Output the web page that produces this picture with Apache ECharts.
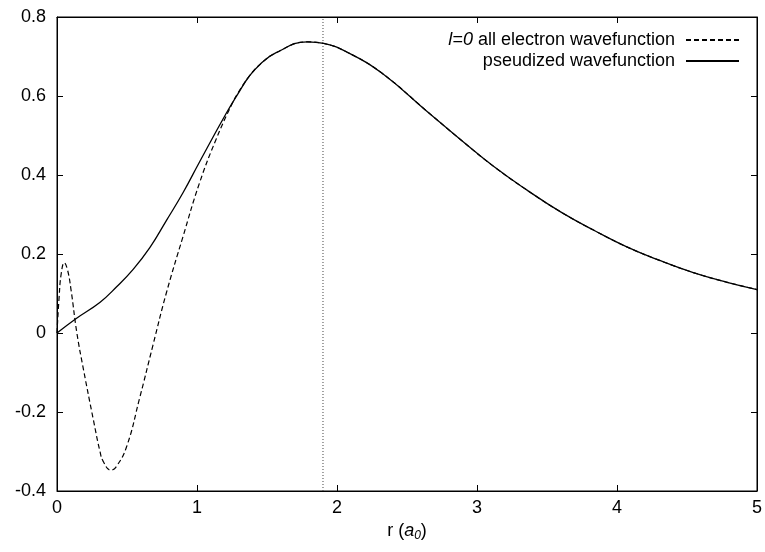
<!DOCTYPE html>
<html>
<head>
<meta charset="utf-8">
<script src="https://cdn.jsdelivr.net/npm/echarts@6/dist/echarts.min.js"></script>
<style>html,body{margin:0;padding:0;background:#fff;}#c{width:765px;height:552px;}</style>
</head>
<body>
<div id="c"></div>
<script>
// ---- data ----
const aeName = 'l=0 all electron wavefunction';
const psName = 'pseudized wavefunction';
const aeR = [0, 0.015, 0.03, 0.052, 0.075, 0.1, 0.142, 0.19, 0.26, 0.307, 0.33, 0.383, 0.42, 0.497, 0.59, 0.686, 0.78, 0.9, 1.018, 1.136, 1.25, 1.3,
  1.373, 1.45, 1.562, 1.787, 1.906, 2.083, 2.32, 2.65, 2.888, 3.125, 3.36, 3.6, 3.835, 4.07, 4.31, 4.545, 4.78, 5.0];
const aeY = [0, 0.09, 0.15, 0.178, 0.16, 0.11, 0.0, -0.094, -0.22, -0.3, -0.325, -0.347, -0.34, -0.288, -0.165, -0.03, 0.10, 0.244, 0.38, 0.49, 0.58, 0.612,
  0.65, 0.68, 0.709, 0.737, 0.733, 0.709, 0.658, 0.559, 0.488, 0.420, 0.361, 0.306, 0.260, 0.218, 0.183, 0.153, 0.129, 0.110];
const psR = [0, 0.13, 0.308, 0.426, 0.544, 0.663, 0.78, 0.9, 1.018, 1.207, 1.3,
  1.373, 1.45, 1.562, 1.787, 1.906, 2.083, 2.32, 2.65, 2.888, 3.125, 3.36, 3.6, 3.835, 4.07, 4.31, 4.545, 4.78, 5.0];
const psY = [0, 0.035, 0.078, 0.117, 0.161, 0.216, 0.284, 0.355, 0.433, 0.555, 0.61,
  0.65, 0.68, 0.709, 0.737, 0.733, 0.709, 0.658, 0.559, 0.488, 0.420, 0.361, 0.306, 0.260, 0.218, 0.183, 0.153, 0.129, 0.110];
const cutoffR = [1.9];
const yRange = [-0.4, 0.8];
const xRange = [0, 5];

const zip = (xs, ys) => xs.map((x, i) => [x, ys[i]]);
const font = 'Liberation Sans, Arial, Helvetica, sans-serif';
const fs = 18;

const chart = echarts.init(document.getElementById('c'), null, {renderer: 'canvas'});
const baseAxis = {
  axisLine: {show: true, onZero: false, lineStyle: {color: '#000', width: 1}},
  axisTick: {show: true, inside: true, length: 6, lineStyle: {color: '#000'}},
  splitLine: {show: false}
};
chart.setOption({
  backgroundColor: '#fff',
  animation: false,
  textStyle: {fontFamily: font},
  grid: {left: 57, right: 4, top: 17, bottom: 61, show: true, borderColor: '#000', borderWidth: 1, containLabel: false},
  legend: {
    orient: 'vertical', right: 20, top: 26, align: 'right', itemWidth: 53, itemHeight: 14, itemGap: 3,
    data: [aeName, psName],
    itemStyle: {opacity: 0},
    textStyle: {fontSize: fs, color: '#000', fontFamily: font, padding: [0, 6, 0, 0],
      rich: {i: {fontStyle: 'italic', fontSize: fs, fontFamily: font, color: '#000'}}},
    formatter: n => n === aeName ? '{i|l=0} all electron wavefunction' : n
  },
  xAxis: [
    Object.assign({}, baseAxis, {type: 'value', min: xRange[0], max: xRange[1], interval: 1, position: 'bottom',
      axisLabel: {color: '#000', fontSize: fs, margin: 8, fontFamily: font},
      name: '{n|r (}{a|a}{s|0}{n|)}', nameLocation: 'middle', nameGap: 25,
      nameTextStyle: {rich: {
        n: {fontSize: fs, color: '#000', fontFamily: font},
        a: {fontSize: fs, color: '#000', fontStyle: 'italic', fontFamily: font},
        s: {fontSize: 12, color: '#000', fontStyle: 'italic', fontFamily: font, padding: [10, 0, 0, 0]}
      }}}),
    Object.assign({}, baseAxis, {type: 'value', min: xRange[0], max: xRange[1], interval: 1, position: 'top',
      axisLabel: {show: false}})
  ],
  yAxis: [
    Object.assign({}, baseAxis, {type: 'value', min: yRange[0], max: yRange[1], interval: 0.2, position: 'left',
      axisLabel: {color: '#000', fontSize: fs, margin: 11, fontFamily: font,
        formatter: v => (Math.abs(v) < 1e-9 ? '0' : (+v.toFixed(1)).toString())}}),
    Object.assign({}, baseAxis, {type: 'value', min: yRange[0], max: yRange[1], interval: 0.2, position: 'right',
      axisLabel: {show: false}})
  ],
  series: [
    {name: aeName, type: 'line', data: zip(aeR, aeY), showSymbol: false, symbol: 'none', smooth: 0.45,
      lineStyle: {color: '#000', width: 1.2, type: [5, 3]}, itemStyle: {color: '#000'}, z: 3},
    {name: psName, type: 'line', data: zip(psR, psY), showSymbol: false, symbol: 'none', smooth: 0.45,
      lineStyle: {color: '#000', width: 1.3, type: 'solid'}, itemStyle: {color: '#000'}, z: 4},
    {name: 'cutoff', type: 'line', data: [[cutoffR[0], yRange[0]], [cutoffR[0], yRange[1]]], showSymbol: false, symbol: 'none',
      lineStyle: {color: '#444', width: 1, type: [1, 2]}, z: 2, silent: true}
  ]
});
</script>
</body>
</html>
